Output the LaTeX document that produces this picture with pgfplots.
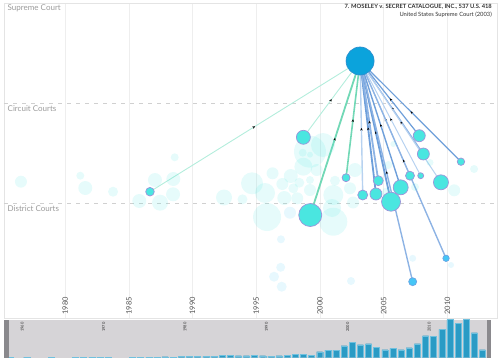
\documentclass[border=0pt]{standalone}
\usepackage{fontspec}
\setmainfont{Lato}
\usepackage{pgfplots}
\pgfplotsset{compat=1.18}
\usepackage{pgfplotstable}
\usetikzlibrary{decorations.markings, arrows.meta}

\definecolor{faintc}{HTML}{4DE6E0}
\definecolor{faintb}{HTML}{47C8F5}
\definecolor{fgteal}{HTML}{4AE6E0}
\definecolor{fgedge}{HTML}{9C94DA}
\definecolor{fgblue}{HTML}{45C6F6}
\definecolor{fgblueedge}{HTML}{6AA4E4}
\definecolor{bigc}{HTML}{0BA3DC}
\definecolor{bigedge}{HTML}{2B8FCF}
\definecolor{gridc}{HTML}{EEEEEE}
\definecolor{framec}{HTML}{E4E4E4}
\definecolor{dashc}{HTML}{D0D0D0}
\definecolor{courtc}{HTML}{9A9A9A}
\definecolor{tickc}{HTML}{555555}
\definecolor{titlec}{HTML}{333333}
\definecolor{navbg}{HTML}{D6D4D7}
\definecolor{navhandle}{HTML}{8A898D}
\definecolor{navbar}{HTML}{2A9BC5}
\definecolor{navbaredge}{HTML}{6FC0DE}
\definecolor{tealA}{HTML}{B3EDDC}
\definecolor{tealB}{HTML}{72D8B6}
\definecolor{blueA}{HTML}{6E9FDA}
\definecolor{blueB}{HTML}{8DB3E4}
\definecolor{blueC}{HTML}{B7D2F0}

% background cases (year, pixel row, radius)
\pgfplotstableread{
x y r
1976.53 181.7 6
1981.19 175.7 4
1981.58 188 7
1983.76 191.7 5
1985.82 201 7
1987.05 180 7
1987.45 202.7 8
1988.49 179 7
1988.47 194.3 7
1988.60 157.3 4
1992.47 197.5 8
1993.92 199.3 5
1994.67 183.3 11
1995.69 193 10
1996.28 173.3 6
1995.85 217 14
1997.05 184 6
1997.71 176 7
1997.91 188.3 5
1997.20 198 7
1998.38 182.7 5
1998.22 198.3 6
1999.22 180 4
1999.22 190 6
1998.70 166.7 9
1999.22 151.7 16
2000.24 145 12
1998.65 152.7 4
1999.22 154.7 3
1999.75 170 6
2001.05 195 10
2000.95 208 9
2001.05 221.7 14
2001.18 180.7 5
2002.36 188.3 6
2002.60 202.5 6
2002.75 170 7
2005.76 144 3
2005.37 165 4
2005.19 191.7 4
2007.46 187 4
2008.64 162.5 3.5
2010.54 190.3 6
2012.10 169 4
}\bgcyan
\pgfplotstableread{
x y r
1997.65 212.7 6
1996.94 239.3 4
1996.92 267.3 4.5
1996.40 276.7 5
1997.00 286.7 5
2002.44 281 4
2007.28 258.3 3.5
2010.29 265 3
}\bgblue
\pgfplotstableread{
x y r
1986.66 191.7 4.3
1998.70 137.3 7
1999.24 215 11.5
2002.05 177.7 4
2003.36 195 5
2004.40 194 6
2004.58 180.7 5
2005.58 201.7 9.5
2006.34 187.3 7.5
2007.07 175.7 4.5
2007.91 175.7 3
2007.80 135.7 6
2008.12 154 6
2009.50 182.3 7.5
2011.07 161.7 3.7
}\fgteal
\pgfplotstableread{
x y r
2007.28 281.7 4
2009.90 258.3 3.2
}\fgblue
\pgfplotstableread{
x y r
2003.15 61 14
}\bigcase
\pgfplotstableread{
year h
1958 0.7
1960 0.7
1963 0.7
1966 0.7
1967 0.7
1968 0.7
1969 0.7
1970 0.7
1973 0.7
1974 0.7
1975 0.7
1976 0.7
1977 1.0
1978 0.7
1979 1.3
1980 1.3
1981 1.7
1982 1.3
1983 1.7
1984 2.3
1985 2.3
1986 2.0
1987 2.0
1988 2.3
1989 2.0
1990 1.7
1991 2.0
1992 2.3
1993 3.3
1994 3.7
1995 2.7
1996 6.0
1997 7.7
1998 7.7
1999 12.0
2000 15.3
2001 13.0
2002 14.0
2003 10.3
2004 8.0
2005 9.3
2006 8.0
2007 10.0
2008 14.0
2009 22.0
2010 21.3
2011 28.3
2012 38.2
2013 34.3
2014 38.2
2015 25.0
2016 8.0
}\navdata

\pgfplotsset{bubble/.style={only marks, mark=*, scatter, point meta=\thisrow{r},
  scatter/use mapped color={#1},
  visualization depends on={\thisrow{r}\as\rr},
  scatter/@pre marker code/.append style={/tikz/mark size=\rr}},
  cite/.style={mark=none, forget plot, postaction={decorate},
  decoration={markings, mark=at position 0.5 with {\arrow{Stealth[length=2.6pt,width=2.4pt,color=black]}}}}}
\tikzset{navlab/.style={rotate=90, anchor=east, inner sep=0pt, font=\fontsize{4}{4}\selectfont, text=black!80}}

\begin{document}
\begin{tikzpicture}
\path[use as bounding box] (0,0) rectangle (500pt,-361pt);
\begin{axis}[
  at={(4pt,-3pt)}, anchor=north west,
  scale only axis, width=493pt, height=315pt,
  xmin=1975.2, xmax=2013.9, ymin=3, ymax=318, y dir=reverse,
  axis line style={draw=framec},
  xtick={1980,1985,1990,1995,2000,2005,2010},
  xticklabels={1980,1985,1990,1995,2000,2005,2010},
  xticklabel style={rotate=90, anchor=west, font=\fontsize{7.5}{8}\selectfont, text=tickc},
  major tick length=0pt,
  xmajorgrids, grid style={draw=gridc, line width=0.6pt},
  ytick=\empty,
  extra y ticks={103,203}, extra y tick labels={},
  extra y tick style={grid=major, major grid style={draw=dashc, dash pattern=on 4pt off 5pt, line width=0.8pt}},
]
\addplot[bubble={draw=faintc, draw opacity=0, fill=faintc, fill opacity=0.14}] table {\bgcyan};
\addplot[bubble={draw=faintb, draw opacity=0, fill=faintb, fill opacity=0.13}] table {\bgblue};

\addplot[cite, draw=tealA, line width=0.9pt] coordinates {(1986.66,191.7) (2003.15,61)};
\addplot[cite, draw=tealA, line width=0.9pt] coordinates {(1998.70,137.3) (2003.15,61)};
\addplot[cite, draw=tealB, line width=1.8pt] coordinates {(1999.24,215) (2003.15,61)};
\addplot[cite, draw=tealB, line width=1.6pt] coordinates {(2002.05,177.7) (2003.15,61)};
\addplot[cite, draw=blueC, line width=1.4pt] coordinates {(2003.36,195) (2003.15,61)};
\addplot[cite, draw=blueA, line width=1.8pt] coordinates {(2004.40,194) (2003.15,61)};
\addplot[cite, draw=blueB, line width=1.8pt] coordinates {(2004.58,180.7) (2003.15,61)};
\addplot[cite, draw=blueA, line width=1.8pt] coordinates {(2005.58,201.7) (2003.15,61)};
\addplot[cite, draw=blueA, line width=1.4pt] coordinates {(2006.34,187.3) (2003.15,61)};
\addplot[cite, draw=blueC, line width=1.0pt] coordinates {(2007.07,175.7) (2003.15,61)};
\addplot[cite, draw=blueC, line width=1.0pt] coordinates {(2007.91,175.7) (2003.15,61)};
\addplot[cite, draw=blueA, line width=1.2pt] coordinates {(2007.80,135.7) (2003.15,61)};
\addplot[cite, draw=blueB, line width=1.2pt] coordinates {(2008.12,154) (2003.15,61)};
\addplot[cite, draw=blueC, line width=1.0pt] coordinates {(2009.50,182.3) (2003.15,61)};
\addplot[cite, draw=blueA, line width=1.2pt] coordinates {(2011.07,161.7) (2003.15,61)};
\addplot[cite, draw=blueB, line width=1.4pt] coordinates {(2007.28,281.7) (2003.15,61)};
\addplot[cite, draw=blueB, line width=1.4pt] coordinates {(2009.90,258.3) (2003.15,61)};

\addplot[bubble={draw=fgedge, line width=0.7pt, fill=fgteal}] table {\fgteal};
\addplot[bubble={draw=fgblueedge, line width=0.7pt, fill=fgblue}] table {\fgblue};
\addplot[bubble={draw=bigedge, line width=0.7pt, fill=bigc}] table {\bigcase};
\end{axis}

\node[anchor=west, font=\fontsize{8}{9}\selectfont, text=courtc, inner sep=0pt] at (7.5pt,-8.3pt) {Supreme Court};
\node[anchor=west, font=\fontsize{8}{9}\selectfont, text=courtc, inner sep=0pt] at (7.5pt,-109pt) {Circuit Courts};
\node[anchor=west, font=\fontsize{8}{9}\selectfont, text=courtc, inner sep=0pt] at (7.5pt,-209pt) {District Courts};
\node[anchor=north east, align=right, inner sep=0pt, text=titlec, font=\fontsize{5.8}{7.6}\selectfont] at (492pt,-4.5pt)
  {\textbf{7. MOSELEY v. SECRET CATALOGUE, INC., 537 U.S. 418}\\United States Supreme Court (2003)};

\begin{axis}[
  at={(3.5pt,-319.5pt)}, anchor=north west,
  scale only axis, width=487.5pt, height=38.2pt,
  xmin=1957.7, xmax=2017.6, ymin=0, ymax=38.2,
  axis line style={draw=none}, ticks=none,
  axis background/.style={fill=navbg},
]
\addplot[ybar, bar width=6pt, bar shift=4.5pt, fill=navbar, draw=navbaredge, line width=0.4pt] table[x=year, y=h] {\navdata};
\fill[navhandle] (rel axis cs:0,0) rectangle ([xshift=5pt]rel axis cs:0,1);
\fill[navhandle] ([xshift=-4.5pt]rel axis cs:1,0) rectangle (rel axis cs:1,1);
\node[navlab] at (axis cs:1960,35.5) {1960};
\node[navlab] at (axis cs:1970,35.5) {1970};
\node[navlab] at (axis cs:1980,35.5) {1980};
\node[navlab] at (axis cs:1990,35.5) {1990};
\node[navlab] at (axis cs:2000,35.5) {2000};
\node[navlab] at (axis cs:2010,35.5) {2010};
\end{axis}
\end{tikzpicture}
\end{document}
